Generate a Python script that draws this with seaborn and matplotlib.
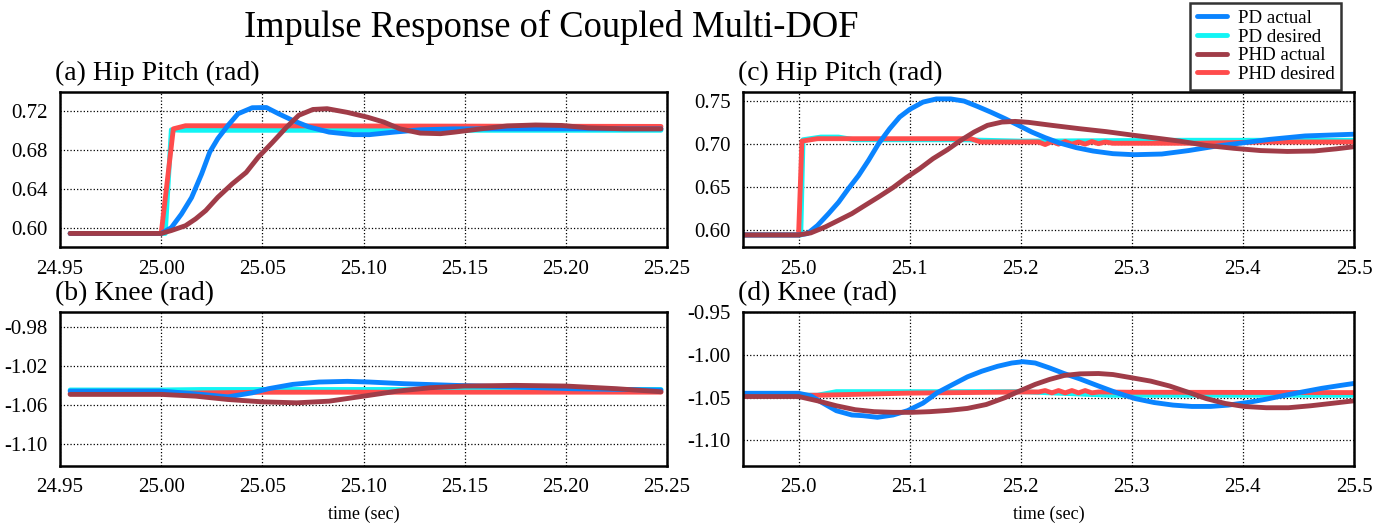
import numpy as np
import pandas as pd
import matplotlib
matplotlib.use("Agg")
import matplotlib.pyplot as plt
import seaborn as sns

# ---- data ----
# (a) hip pitch, short window
a_t_pd_act = [24.955, 25.000, 25.005, 25.010, 25.015, 25.020, 25.024, 25.028, 25.033, 25.038,
              25.045, 25.052, 25.058, 25.065, 25.073, 25.083, 25.095, 25.103, 25.115, 25.128,
              25.145, 25.170, 25.200, 25.247]
a_pd_act = [0.594, 0.594, 0.600, 0.614, 0.631, 0.6555, 0.678, 0.692, 0.7055, 0.7176,
            0.7238, 0.724, 0.7176, 0.7107, 0.704, 0.6986, 0.696, 0.696, 0.6986, 0.701,
            0.702, 0.702, 0.702, 0.702]
a_t_pd_des = [24.955, 25.002, 25.005, 25.010, 25.020, 25.247]
a_pd_des = [0.594, 0.594, 0.701, 0.7005, 0.7005, 0.7005]
a_t_phd_act = [24.955, 25.000, 25.005, 25.012, 25.017, 25.022, 25.028, 25.035, 25.042, 25.048,
               25.055, 25.062, 25.068, 25.075, 25.082, 25.092, 25.102, 25.110, 25.118, 25.128,
               25.138, 25.145, 25.158, 25.171, 25.185, 25.198, 25.211, 25.229, 25.247]
a_phd_act = [0.594, 0.594, 0.597, 0.602, 0.609, 0.6176, 0.6314, 0.645, 0.657, 0.6728,
             0.688, 0.7038, 0.716, 0.722, 0.7228, 0.719, 0.714, 0.709, 0.702, 0.6976,
             0.697, 0.6986, 0.702, 0.705, 0.706, 0.7055, 0.703, 0.702, 0.702]
a_t_phd_des = [24.955, 25.000, 25.006, 25.012, 25.247]
a_phd_des = [0.594, 0.594, 0.702, 0.7052, 0.7045]

# (b) knee, short window
b_t_pd_act = [24.955, 25.000, 25.020, 25.033, 25.045, 25.053, 25.065, 25.078, 25.092, 25.103,
              25.120, 25.145, 25.170, 25.203, 25.247]
b_pd_act = [-1.0456, -1.0456, -1.049, -1.0515, -1.0474, -1.0432, -1.0388, -1.0364, -1.0357, -1.0364,
            -1.0381, -1.0398, -1.0412, -1.0432, -1.0446]
b_t_pd_des = [24.955, 25.000, 25.020, 25.247]
b_pd_des = [-1.0445, -1.0445, -1.044, -1.044]
b_t_phd_act = [24.955, 25.000, 25.017, 25.033, 25.050, 25.067, 25.083, 25.100, 25.117, 25.133,
               25.150, 25.175, 25.200, 25.225, 25.247]
b_phd_act = [-1.049, -1.049, -1.0508, -1.0542, -1.0566, -1.0576, -1.0559, -1.0508, -1.0456, -1.0422,
             -1.0405, -1.0398, -1.0405, -1.0432, -1.0463]
b_t_phd_des = [24.955, 25.000, 25.050, 25.247]
b_phd_des = [-1.048, -1.048, -1.0468, -1.0467]

# (c) hip pitch, long window
c_t_pd_act = [24.95, 25.000, 25.008, 25.017, 25.027, 25.036, 25.045, 25.054, 25.063, 25.072,
              25.082, 25.091, 25.100, 25.112, 25.124, 25.137, 25.149, 25.161, 25.173, 25.186,
              25.198, 25.210, 25.222, 25.235, 25.250, 25.265, 25.283, 25.302, 25.327, 25.351,
              25.375, 25.400, 25.424, 25.456, 25.500]
c_pd_act = [0.594, 0.594, 0.5956, 0.605, 0.6188, 0.632, 0.648, 0.663, 0.6807, 0.700,
            0.7174, 0.731, 0.7398, 0.7483, 0.752, 0.752, 0.7495, 0.7433, 0.7367, 0.729,
            0.7213, 0.7135, 0.707, 0.7008, 0.6954, 0.6915, 0.6884, 0.6872, 0.688, 0.692,
            0.697, 0.701, 0.705, 0.709, 0.711]
c_t_pd_des = [24.95, 25.002, 25.004, 25.020, 25.036, 25.050, 25.150, 25.200, 25.350, 25.500]
c_pd_des = [0.594, 0.594, 0.7046, 0.7077, 0.7077, 0.7046, 0.7045, 0.703, 0.704, 0.704]
c_t_phd_act = [24.95, 25.000, 25.011, 25.024, 25.036, 25.048, 25.060, 25.072, 25.085, 25.097,
               25.109, 25.121, 25.134, 25.146, 25.158, 25.170, 25.183, 25.195, 25.207, 25.228,
               25.253, 25.277, 25.302, 25.319, 25.343, 25.367, 25.392, 25.416, 25.440, 25.464,
               25.484, 25.500]
c_phd_act = [0.594, 0.594, 0.5964, 0.6033, 0.611, 0.6188, 0.6285, 0.6381, 0.649, 0.6606,
             0.671, 0.6826, 0.693, 0.7039, 0.7135, 0.7213, 0.7251, 0.7259, 0.7248, 0.7213,
             0.7174, 0.714, 0.7097, 0.707, 0.703, 0.698, 0.6946, 0.692, 0.691, 0.6915,
             0.694, 0.6965]
c_t_phd_des = [24.95, 25.000, 25.003, 25.017, 25.155, 25.164, 25.216, 25.222, 25.228, 25.234,
               25.240, 25.246, 25.252, 25.258, 25.264, 25.270, 25.276, 25.283, 25.300,
               25.360, 25.420, 25.500]
c_phd_des = [0.594, 0.594, 0.703, 0.7058, 0.7058, 0.702, 0.702, 0.699, 0.7025, 0.6995,
             0.7025, 0.6995, 0.702, 0.6995, 0.7025, 0.700, 0.702, 0.7005, 0.7005,
             0.7005, 0.702, 0.702]

# (d) knee, long window
d_t_pd_act = [24.95, 25.000, 25.011, 25.021, 25.034, 25.048, 25.058, 25.071, 25.085, 25.098,
              25.112, 25.125, 25.139, 25.152, 25.165, 25.179, 25.192, 25.202, 25.213, 25.226,
              25.239, 25.253, 25.270, 25.286, 25.303, 25.320, 25.337, 25.354, 25.371, 25.387,
              25.404, 25.421, 25.438, 25.455, 25.471, 25.488, 25.500]
d_pd_act = [-1.045, -1.045, -1.048, -1.0558, -1.0654, -1.0704, -1.0712, -1.0731, -1.0704, -1.0654,
            -1.0565, -1.0442, -1.0346, -1.0258, -1.0192, -1.0135, -1.0096, -1.0081, -1.0096, -1.0154,
            -1.0219, -1.0281, -1.0365, -1.0442, -1.0512, -1.0558, -1.0588, -1.0604, -1.0604, -1.0588,
            -1.0558, -1.0519, -1.0473, -1.0431, -1.0392, -1.0358, -1.0335]
d_t_pd_des = [24.95, 25.017, 25.034, 25.200, 25.280, 25.500]
d_pd_des = [-1.0473, -1.0473, -1.0431, -1.0431, -1.0473, -1.0473]
d_t_phd_act = [24.95, 25.000, 25.017, 25.034, 25.051, 25.068, 25.085, 25.102, 25.118, 25.135,
               25.152, 25.169, 25.186, 25.199, 25.213, 25.226, 25.239, 25.253, 25.270, 25.283,
               25.300, 25.317, 25.334, 25.350, 25.367, 25.384, 25.401, 25.421, 25.441, 25.461,
               25.482, 25.500]
d_phd_act = [-1.0488, -1.0488, -1.0538, -1.0596, -1.0642, -1.0665, -1.0673, -1.0673, -1.0665, -1.065,
             -1.0627, -1.0581, -1.050, -1.0423, -1.0346, -1.0288, -1.0242, -1.0223, -1.0219, -1.0231,
             -1.0269, -1.0308, -1.0365, -1.0435, -1.0512, -1.0569, -1.0604, -1.0619, -1.0619, -1.0596,
             -1.0565, -1.0538]
d_t_phd_des = [24.95, 25.017, 25.100, 25.200, 25.216, 25.222, 25.228, 25.234, 25.240, 25.246,
               25.252, 25.258, 25.264, 25.270, 25.300, 25.500]
d_phd_des = [-1.0473, -1.0473, -1.0448, -1.0435, -1.0435, -1.0418, -1.0445, -1.0418, -1.0445, -1.0418,
             -1.0445, -1.0418, -1.0445, -1.0435, -1.0438, -1.0442]

series_names = ['PD actual', 'PD desired', 'PHD actual', 'PHD desired']
colors = {'PD actual': '#0a84ff', 'PD desired': '#12f5f5',
          'PHD actual': '#a03c48', 'PHD desired': '#ff4c4c'}
draw_order = ['PD desired', 'PHD desired', 'PD actual', 'PHD actual']

panels = {
    'a': {'title': '(a) Hip Pitch (rad)',
          'data': {'PD actual': (a_t_pd_act, a_pd_act), 'PD desired': (a_t_pd_des, a_pd_des),
                   'PHD actual': (a_t_phd_act, a_phd_act), 'PHD desired': (a_t_phd_des, a_phd_des)},
          'xlim': (24.95, 25.25), 'xticks': [24.95, 25.00, 25.05, 25.10, 25.15, 25.20, 25.25], 'xfmt': '%.2f',
          'ylim': (0.58, 0.74), 'yticks': [0.60, 0.64, 0.68, 0.72], 'yfmt': '%.2f'},
    'b': {'title': '(b) Knee (rad)',
          'data': {'PD actual': (b_t_pd_act, b_pd_act), 'PD desired': (b_t_pd_des, b_pd_des),
                   'PHD actual': (b_t_phd_act, b_phd_act), 'PHD desired': (b_t_phd_des, b_phd_des)},
          'xlim': (24.95, 25.25), 'xticks': [24.95, 25.00, 25.05, 25.10, 25.15, 25.20, 25.25], 'xfmt': '%.2f',
          'ylim': (-1.122, -0.965), 'yticks': [-1.10, -1.06, -1.02, -0.98], 'yfmt': '%.2f'},
    'c': {'title': '(c) Hip Pitch (rad)',
          'data': {'PD actual': (c_t_pd_act, c_pd_act), 'PD desired': (c_t_pd_des, c_pd_des),
                   'PHD actual': (c_t_phd_act, c_phd_act), 'PHD desired': (c_t_phd_des, c_phd_des)},
          'xlim': (24.95, 25.5), 'xticks': [25.0, 25.1, 25.2, 25.3, 25.4, 25.5], 'xfmt': '%.1f',
          'ylim': (0.58, 0.76), 'yticks': [0.60, 0.65, 0.70, 0.75], 'yfmt': '%.2f'},
    'd': {'title': '(d) Knee (rad)',
          'data': {'PD actual': (d_t_pd_act, d_pd_act), 'PD desired': (d_t_pd_des, d_pd_des),
                   'PHD actual': (d_t_phd_act, d_phd_act), 'PHD desired': (d_t_phd_des, d_phd_des)},
          'xlim': (24.95, 25.5), 'xticks': [25.0, 25.1, 25.2, 25.3, 25.4, 25.5], 'xfmt': '%.1f',
          'ylim': (-1.13, -0.95), 'yticks': [-1.10, -1.05, -1.00, -0.95], 'yfmt': '%.2f'},
}

sns.set_style('white')
plt.rcParams['font.family'] = ['Liberation Serif', 'DejaVu Serif']
plt.rcParams['text.color'] = 'black'
plt.rcParams['axes.labelcolor'] = 'black'
plt.rcParams['xtick.color'] = 'black'
plt.rcParams['ytick.color'] = 'black'

fig = plt.figure(figsize=(13.77, 5.25), dpi=100)
rects = {'a': [0.0436, 0.5295, 0.4408, 0.2952],
         'b': [0.0436, 0.1124, 0.4408, 0.2933],
         'c': [0.5396, 0.5295, 0.4437, 0.2952],
         'd': [0.5396, 0.1124, 0.4437, 0.2933]}

handles = {}
for key, p in panels.items():
    ax = fig.add_axes(rects[key])
    for name in draw_order:
        t, v = p['data'][name]
        df = pd.DataFrame({'time': t, 'value': v})
        sns.lineplot(data=df, x='time', y='value', ax=ax, color=colors[name], lw=3.5,
                     estimator=None, sort=False, label=name)
        handles[name] = ax.lines[-1]
    ax.get_legend().remove()
    ax.set_xlim(*p['xlim'])
    ax.set_ylim(*p['ylim'])
    ax.set_xticks(p['xticks'])
    ax.set_yticks(p['yticks'])
    ax.xaxis.set_major_formatter(matplotlib.ticker.FormatStrFormatter(p['xfmt']))
    ax.yaxis.set_major_formatter(matplotlib.ticker.FormatStrFormatter(p['yfmt']))
    ax.grid(True, color='black', linestyle=':', linewidth=0.9)
    ax.tick_params(length=0, labelsize=15, pad=9, colors='black')
    for s in ax.spines.values():
        s.set_linewidth(1.8)
        s.set_color('black')
    ax.set_xlabel('time (sec)' if key in ('b', 'd') else '', fontsize=13, labelpad=6)
    ax.set_ylabel('')
    ax.text(-0.008, 1.04, p['title'], transform=ax.transAxes, fontsize=20,
            ha='left', va='bottom')

fig.text(0.40, 0.948, 'Impulse Response of Coupled Multi-DOF', fontsize=26.3,
         ha='center', va='center')

leg = fig.legend([handles[n] for n in series_names], series_names, loc='upper right',
                 bbox_to_anchor=(1341 / 1377, 1 - 3 / 525), borderaxespad=0,
                 fontsize=13.6, handlelength=1.6, handletextpad=0.55, labelspacing=0.08,
                 borderpad=0.35, fancybox=False, frameon=True)
leg.get_frame().set_edgecolor('black')
leg.get_frame().set_linewidth(1.8)

fig.savefig('out.png', dpi=100)
